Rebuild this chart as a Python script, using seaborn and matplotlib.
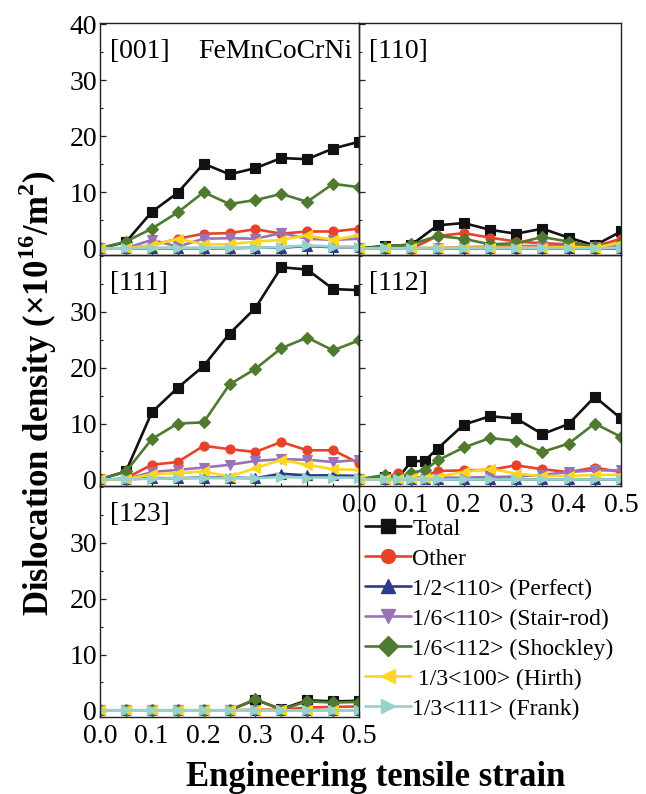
import numpy as np
import pandas as pd
import matplotlib
matplotlib.use("Agg")
import matplotlib.pyplot as plt
from matplotlib.lines import Line2D
from matplotlib.ticker import MultipleLocator, FixedLocator, FormatStrFormatter
import seaborn as sns

sns.set_theme(style="ticks")
plt.rcParams['font.family'] = ['Liberation Serif', 'DejaVu Serif']
plt.rcParams['mathtext.fontset'] = 'custom'
plt.rcParams['mathtext.rm'] = 'Liberation Serif'
plt.rcParams['mathtext.bf'] = 'Liberation Serif:bold'
plt.rcParams['text.color'] = 'black'
plt.rcParams['axes.labelcolor'] = 'black'
plt.rcParams['xtick.color'] = 'black'
plt.rcParams['ytick.color'] = 'black'

# ---------------- data ----------------
types = ["Total", "Other", "1/2<110> (Perfect)", "1/6<110> (Stair-rod)",
         "1/6<112> (Shockley)", "1/3<100> (Hirth)", "1/3<111> (Frank)"]
legend_labels = ["Total", "Other", "1/2<110> (Perfect)", "1/6<110> (Stair-rod)",
                 "1/6<112> (Shockley)", " 1/3<100> (Hirth)", "1/3<111> (Frank)"]
colors = ["#111111", "#E8432A", "#2E3A8C", "#9A72B5", "#4F7A2F", "#FFD61F", "#96D2C8"]
marker_list = ["s", "o", "^", "v", "D", "<", ">"]

strain = [0.0, 0.05, 0.1, 0.15, 0.2, 0.25, 0.3, 0.35, 0.4, 0.45, 0.5]
strain_112 = [0.0, 0.05, 0.075, 0.1, 0.125, 0.15, 0.2, 0.25, 0.3, 0.35, 0.4, 0.45, 0.5]

# [001]
d001_total = [0, 1.1, 6.5, 9.9, 15.1, 13.2, 14.3, 16.1, 15.9, 17.8, 19.0]
d001_other = [0, 0, 0.5, 1.7, 2.6, 2.7, 3.4, 2.6, 3.0, 3.0, 3.5]
d001_perfect = [0, 0, 0, 0, 0, 0, 0.1, 0.1, 0.4, 0.2, 0.2]
d001_stair = [0, 0, 1.5, 0.3, 1.7, 1.8, 1.7, 2.7, 1.7, 1.5, 1.7]
d001_shockley = [0, 1.2, 3.5, 6.4, 10.0, 7.9, 8.6, 9.7, 8.3, 11.5, 10.9]
d001_hirth = [0, 0, 0.5, 1.7, 0.7, 0.7, 1.2, 1.5, 2.3, 1.5, 2.3]
d001_frank = [0, 0, 0.1, 0.1, 0.1, 0.1, 0.1, 0.2, 0.5, 0.3, 0.3]

# [110]
d110_total = [0, 0.4, 0.6, 4.1, 4.5, 3.3, 2.6, 3.5, 1.9, 0.5, 3.0]
d110_other = [0, 0, -0.1, 2.2, 2.7, 1.9, 1.2, 0.9, 0.7, 0.3, 1.7]
d110_perfect = [0, 0, 0, 0, 0, 0, 0, 0, 0, 0, 0]
d110_stair = [0, 0, 0, 0.1, 0.2, 0.3, 0.4, 0.4, 0.4, 0.2, 0.4]
d110_shockley = [0, 0.3, 0.7, 2.2, 1.7, 0.7, 0.9, 2.0, 1.2, 0.3, 0.9]
d110_hirth = [0, 0, 0, 0.1, 0.1, 0.1, 0.1, 0.1, 0.2, 0.1, 1.0]
d110_frank = [0, 0, 0, 0, 0, 0, 0, 0, 0, 0, 0.1]

# [111]
d111_total = [0, 1.4, 12.0, 16.4, 20.3, 26.1, 30.7, 38.0, 37.6, 34.1, 33.9]
d111_other = [-0.2, 0.2, 2.6, 3.1, 6.0, 5.4, 4.9, 6.7, 5.2, 5.2, 2.9]
d111_perfect = [0, 0, 0.2, 0.2, 0.3, 0.3, 0.2, 1.0, 0.7, 0.7, 0.6]
d111_stair = [0, 0, 1.3, 1.7, 2.1, 2.6, 3.3, 3.6, 3.5, 3.1, 3.5]
d111_shockley = [0, 1.4, 7.2, 10.0, 10.2, 17.0, 19.8, 23.5, 25.4, 23.1, 24.9]
d111_hirth = [0, 0, 0.9, 1.1, 1.4, 0.5, 2.0, 3.5, 2.6, 1.8, 1.7]
d111_frank = [0, 0, 0.1, 0.2, 0.2, 0.2, 0.2, 0.4, 0.3, 0.3, 0.3]

# [112]
d112_total = [0, 0.5, 0.3, 3.2, 3.3, 5.5, 9.8, 11.3, 10.9, 8.1, 9.9, 14.8, 10.9]
d112_other = [0, 0.3, 1.1, 0.2, 0.5, 1.5, 1.6, 1.7, 2.5, 1.8, 1.3, 2.1, 1.3]
d112_perfect = [0, 0, 0, 0, 0, 0, 0, 0, 0, 0, 0, 0, 0]
d112_stair = [0, 0, 0, 0, 0.1, 0.3, 0.3, 0.4, 0.5, 0.8, 1.3, 1.6, 1.6]
d112_shockley = [0, 0.8, 0.2, 1.2, 1.6, 3.4, 5.7, 7.4, 6.9, 4.9, 6.4, 10.0, 7.6]
d112_hirth = [0, 0, 0, 0.2, 0.3, 0.5, 1.3, 1.9, 1.0, 0.6, 0.6, 0.8, 0.8]
d112_frank = [0, 0, 0, 0, 0, 0, 0, 0, 0, 0, 0, 0, 0]

# [123]
d123_total = [0, 0, 0, 0, 0, 0, 1.9, 0.2, 1.8, 1.6, 1.7]
d123_other = [0, 0, 0, 0, 0, 0, 0.1, 0.1, 0.5, 0.6, 0.7]
d123_perfect = [0, 0, 0, 0, 0, 0, 0, 0, 0, 0, 0]
d123_stair = [0, 0, 0, 0, 0, 0, 0, 0, 0, 0, 0]
d123_shockley = [0, 0, 0, 0, 0, 0, 2.0, 0.1, 1.6, 1.4, 1.5]
d123_hirth = [0, 0, 0, 0, 0, 0, 0, 0, 0, 0, 0]
d123_frank = [0, 0, 0, 0, 0, 0, 0, 0, 0, 0, 0]

yticks_top = [0, 10, 20, 30, 40]
yticks_lower = [0, 10, 20, 30]

panels = {
    "[001]": (strain, [d001_total, d001_other, d001_perfect, d001_stair, d001_shockley, d001_hirth, d001_frank]),
    "[110]": (strain, [d110_total, d110_other, d110_perfect, d110_stair, d110_shockley, d110_hirth, d110_frank]),
    "[111]": (strain, [d111_total, d111_other, d111_perfect, d111_stair, d111_shockley, d111_hirth, d111_frank]),
    "[112]": (strain_112, [d112_total, d112_other, d112_perfect, d112_stair, d112_shockley, d112_hirth, d112_frank]),
    "[123]": (strain, [d123_total, d123_other, d123_perfect, d123_stair, d123_shockley, d123_hirth, d123_frank]),
}

palette = dict(zip(types, colors))
markers = dict(zip(types, marker_list))

# ---------------- figure ----------------
W, H = 646, 794
fig = plt.figure(figsize=(W / 100, H / 100), dpi=100)

def frac(x0, y0, x1, y1):
    return [x0 / W, 1 - y1 / H, (x1 - x0) / W, (y1 - y0) / H]

LX0, LX1, RX1 = 100, 359, 621
rows = [(23, 255), (255, 486), (486, 717)]
pos = {
    "[001]": frac(LX0, rows[0][0], LX1, rows[0][1]),
    "[110]": frac(LX1, rows[0][0], RX1, rows[0][1]),
    "[111]": frac(LX0, rows[1][0], LX1, rows[1][1]),
    "[112]": frac(LX1, rows[1][0], RX1, rows[1][1]),
    "[123]": frac(LX0, rows[2][0], LX1, rows[2][1]),
}

FS = 20
for name, (xs, series) in panels.items():
    ax = fig.add_axes(pos[name])
    rec = []
    for t, vals in zip(types, series):
        for xv, yv in zip(xs, vals):
            rec.append({"strain": xv, "density": yv, "type": t})
    df = pd.DataFrame(rec)
    sns.lineplot(data=df, x="strain", y="density", hue="type", style="type",
                 hue_order=types, style_order=types, palette=palette,
                 markers=markers, dashes=False, markersize=6.5, linewidth=1.9,
                 legend=False, ax=ax, sort=False)
    for ln in ax.lines:
        ln.set_markeredgecolor(ln.get_color())
        ln.set_markeredgewidth(0.8)
    ax.set_xlim(0, 0.5)
    ax.set_ylim(-1.2, 40.2)
    ax.xaxis.set_major_locator(MultipleLocator(0.1))
    ax.xaxis.set_minor_locator(MultipleLocator(0.05))
    if name in ("[001]", "[110]"):
        ax.yaxis.set_major_locator(FixedLocator(yticks_top))
    else:
        ax.yaxis.set_major_locator(FixedLocator(yticks_lower))
    ax.yaxis.set_minor_locator(MultipleLocator(5))
    ax.tick_params(which="both", direction="in", color="#222222")
    ax.tick_params(which="major", length=4, width=0.9)
    ax.tick_params(which="minor", length=2.5, width=0.8)
    ax.tick_params(axis="y", labelsize=FS, pad=2)
    ax.tick_params(axis="x", labelsize=FS, pad=5)
    ax.set_xlabel("")
    ax.set_ylabel("")
    for sp in ax.spines.values():
        sp.set_color("#222222")
        sp.set_linewidth(1.0)
    ax.set_facecolor("none")
    ax.xaxis.set_major_formatter(FormatStrFormatter("%.1f"))
    if name in ("[110]", "[112]"):
        ax.tick_params(axis="y", labelleft=False)
    if name in ("[001]", "[110]", "[111]"):
        ax.tick_params(axis="x", labelbottom=False)
    ax.text(0.04, 0.93, name, transform=ax.transAxes, fontsize=FS,
            ha="left", va="top")
    if name == "[001]":
        ax.text(0.975, 0.93, "FeMnCoCrNi", transform=ax.transAxes,
                fontsize=FS, ha="right", va="top")

# legend
handles = [Line2D([0], [0], color=c, marker=m, markersize=10, linewidth=1.9,
                  markeredgecolor=c) for c, m in zip(colors, marker_list)]
fig.legend(handles, legend_labels, loc="upper left",
           bbox_to_anchor=(365 / W, 1 - 518 / H), frameon=False,
           fontsize=17, handlelength=1.95, handletextpad=0.05,
           labelspacing=0.36, borderaxespad=0, borderpad=0)

fig.text(38 / W, 1 - 393 / H,
         r"Dislocation density (×10$^{\mathbf{16}}$/m$^{\mathbf{2}}$)",
         rotation=90, ha="center", va="center", fontsize=25, fontweight="bold")
fig.text(376 / W, 1 - 777 / H, "Engineering tensile strain",
         ha="center", va="center", fontsize=25, fontweight="bold")

fig.savefig("out.png", dpi=100)
